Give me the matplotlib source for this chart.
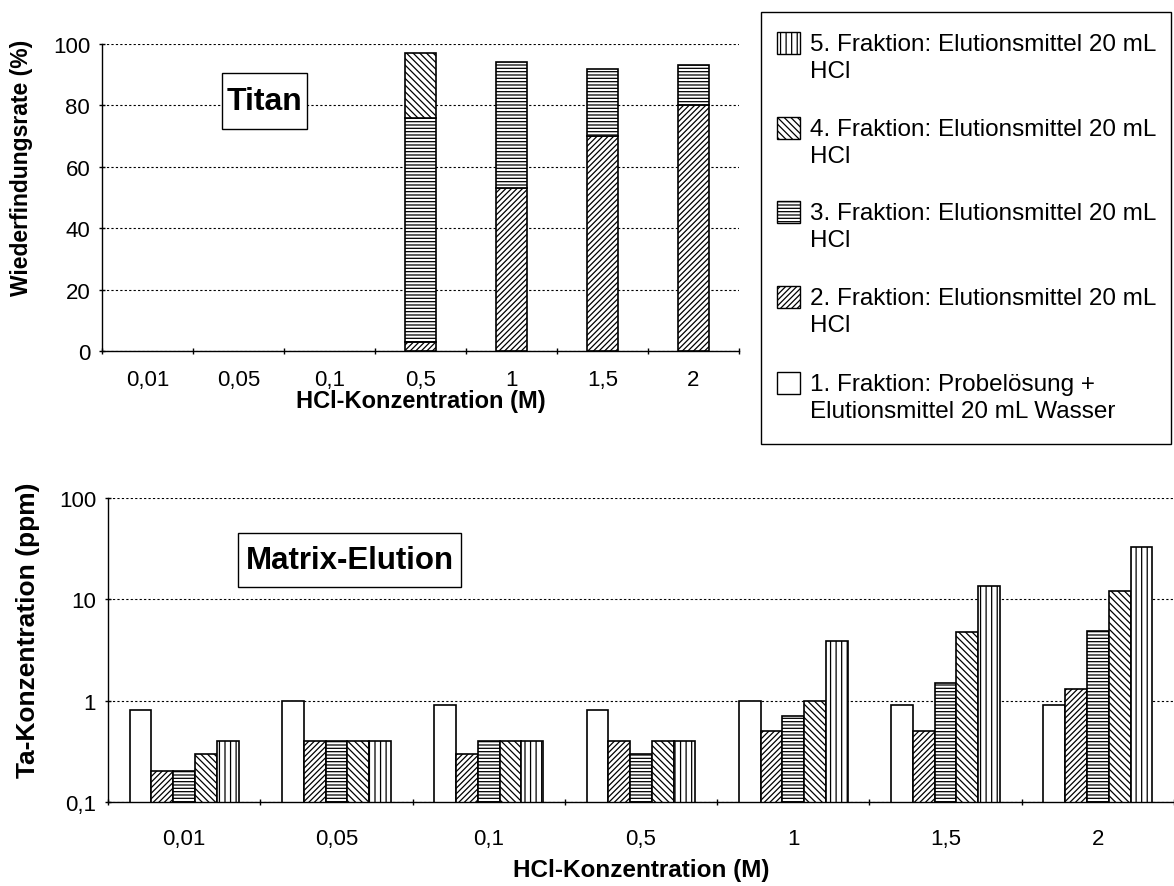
import numpy as np
import matplotlib
matplotlib.use("Agg")
import matplotlib.pyplot as plt
from matplotlib.ticker import FixedLocator
from matplotlib.patches import Rectangle

plt.rcParams['font.family'] = ['Liberation Sans', 'DejaVu Sans']
plt.rcParams['hatch.linewidth'] = 0.9

categories = ["0,01", "0,05", "0,1", "0,5", "1", "1,5", "2"]

# Titan recovery (%), stacked fractions
titan_f1 = [0, 0, 0, 0, 0, 0, 0]
titan_f2 = [0, 0, 0, 3, 53, 70, 80]
titan_f3 = [0, 0, 0, 73, 41, 22, 13]
titan_f4 = [0, 0, 0, 21, 0, 0, 0]
titan_f5 = [0, 0, 0, 0, 0, 0, 0]

# Matrix elution, Ta concentration (ppm)
ta_f1 = [0.8, 1.0, 0.9, 0.8, 1.0, 0.9, 0.9]
ta_f2 = [0.2, 0.4, 0.3, 0.4, 0.5, 0.5, 1.3]
ta_f3 = [0.2, 0.4, 0.4, 0.3, 0.7, 1.5, 4.9]
ta_f4 = [0.3, 0.4, 0.4, 0.4, 1.0, 4.8, 12.0]
ta_f5 = [0.4, 0.4, 0.4, 0.4, 3.9, 13.5, 33.0]

labels = [
    "1. Fraktion: Probelösung +\nElutionsmittel 20 mL Wasser",
    "2. Fraktion: Elutionsmittel 20 mL\nHCl",
    "3. Fraktion: Elutionsmittel 20 mL\nHCl",
    "4. Fraktion: Elutionsmittel 20 mL\nHCl",
    "5. Fraktion: Elutionsmittel 20 mL\nHCl",
]
hatches = [None, "//////", "-----", "\\\\\\\\\\", "|||"]

W, H = 1174, 887
fig = plt.figure(figsize=(W / 100, H / 100), dpi=100)

def fx(px):
    return px / W

def fy(py):
    return 1 - py / H

TICK_FS = 16

def style_axes(ax, n, pad):
    ax.spines['top'].set_visible(False)
    ax.spines['right'].set_visible(False)
    for s in ('left', 'bottom'):
        ax.spines[s].set_color('black')
        ax.spines[s].set_linewidth(1.0)
    ax.set_xlim(-0.5, n - 0.5)
    ax.set_xticks(np.arange(n))
    ax.set_xticklabels(categories, fontsize=TICK_FS)
    ax.xaxis.set_minor_locator(FixedLocator(np.arange(n + 1) - 0.5))
    ax.tick_params(axis='x', which='major', length=0, pad=pad)
    ax.tick_params(axis='x', which='minor', length=5, width=1, direction='inout')
    ax.tick_params(axis='y', which='major', length=5, width=1, direction='inout',
                   labelsize=TICK_FS, pad=6)
    ax.yaxis.grid(True, which='major', linestyle=(0, (2, 2)), color='black', linewidth=0.8)
    ax.set_axisbelow(True)

def boxed_title(text, x0, y0, x1, y1, fs):
    fig.patches.append(Rectangle((fx(x0), fy(y1)), fx(x1) - fx(x0), fy(y0) - fy(y1),
                                 transform=fig.transFigure, facecolor='white',
                                 edgecolor='black', linewidth=1.0, zorder=5))
    fig.text(fx((x0 + x1) / 2), fy((y0 + y1) / 2), text, fontsize=fs, fontweight='bold',
             ha='center', va='center', zorder=6)

# ---------- top chart ----------
AX1_L, AX1_R, AX1_B, AX1_T = 102, 739, 352, 45
ax1 = fig.add_axes([fx(AX1_L), fy(AX1_B), fx(AX1_R) - fx(AX1_L), fy(AX1_T) - fy(AX1_B)])
x = np.arange(len(categories))
w1 = 0.34
bottom = np.zeros(len(categories))
for vals, h in zip([titan_f1, titan_f2, titan_f3, titan_f4, titan_f5], hatches):
    vals = np.array(vals, dtype=float)
    m = vals > 0
    if m.any():
        ax1.bar(x[m], vals[m], w1, bottom=bottom[m], color='white', edgecolor='black',
                hatch=h, linewidth=1.2)
    bottom += vals
style_axes(ax1, len(categories), 13)
ax1.set_ylim(0, 100)
ax1.set_yticks([0, 20, 40, 60, 80, 100])
ax1.set_ylabel("Wiederfindungsrate (%)", fontsize=16.5, fontweight='bold')
ax1.yaxis.set_label_coords((33 - AX1_L) / (AX1_R - AX1_L), (AX1_B - 168) / (AX1_B - AX1_T))
ax1.set_xlabel("HCl-Konzentration (M)", fontsize=17, fontweight='bold', labelpad=-1)
boxed_title("Titan", 222, 74, 307, 130, 23)

# ---------- bottom chart ----------
AX2_L, AX2_R, AX2_B, AX2_T = 108, 1174, 803, 499
ax2 = fig.add_axes([fx(AX2_L), fy(AX2_B), fx(AX2_R) - fx(AX2_L), fy(AX2_T) - fy(AX2_B)])
w2 = 0.143
for i, (vals, h) in enumerate(zip([ta_f1, ta_f2, ta_f3, ta_f4, ta_f5], hatches)):
    ax2.bar(x + (i - 2) * w2, vals, w2, bottom=0, color='white', edgecolor='black',
            hatch=h, linewidth=1.2)
ax2.set_yscale('log')
ax2.set_ylim(0.1, 100)
ax2.set_yticks([0.1, 1, 10, 100])
ax2.set_yticklabels(["0,1", "1", "10", "100"])
ax2.yaxis.set_minor_locator(FixedLocator([]))
style_axes(ax2, len(categories), 19)
ax2.set_ylabel("Ta-Konzentration (ppm)", fontsize=19, fontweight='bold')
ax2.yaxis.set_label_coords((40 - AX2_L) / (AX2_R - AX2_L), (AX2_B - 630) / (AX2_B - AX2_T))
ax2.set_xlabel("HCl-Konzentration (M)", fontsize=17.5, fontweight='bold', labelpad=6)
boxed_title("Matrix-Elution", 238, 534, 461, 588, 22.5)

# ---------- legend (drawn as figure artists) ----------
fig.patches.append(Rectangle((fx(761), fy(445)), fx(1171) - fx(761), fy(13) - fy(445),
                             transform=fig.transFigure, facecolor='white',
                             edgecolor='black', linewidth=1.0, zorder=1))
entry_tops = [33, 118, 202, 287, 373]
order = [4, 3, 2, 1, 0]
for top, idx in zip(entry_tops, order):
    fig.patches.append(Rectangle((fx(777), fy(top + 22)), fx(23), fy(0) - fy(22),
                                 transform=fig.transFigure, facecolor='white',
                                 edgecolor='black', linewidth=1.0, hatch=hatches[idx],
                                 zorder=2))
    fig.text(fx(810), fy(top + 1), labels[idx], fontsize=17.5, ha='left', va='top',
             linespacing=1.3, zorder=3)

fig.savefig("out.png", dpi=100)
